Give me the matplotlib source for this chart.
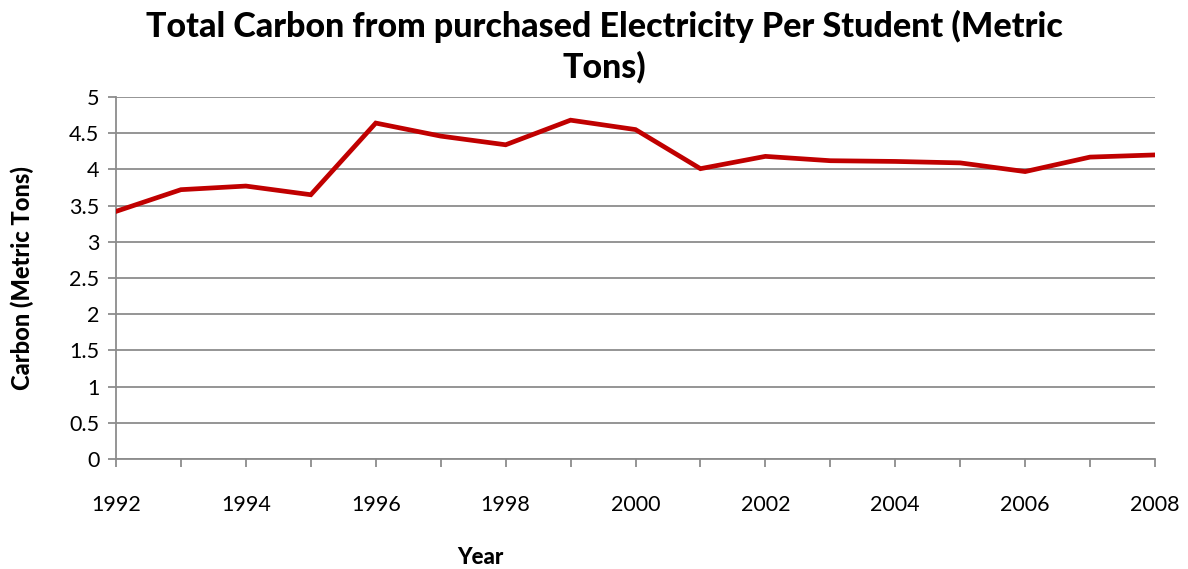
import matplotlib
matplotlib.use("Agg")
import matplotlib.pyplot as plt

plt.rcParams['font.family'] = ['Lato', 'DejaVu Sans']

years = list(range(1992, 2009))
carbon = [3.42, 3.72, 3.77, 3.65, 4.64, 4.46, 4.34, 4.68, 4.55,
          4.01, 4.18, 4.12, 4.11, 4.09, 3.97, 4.17, 4.20]
yticks = [0, 0.5, 1, 1.5, 2, 2.5, 3, 3.5, 4, 4.5, 5]
ytick_labels = ['0', '0.5', '1', '1.5', '2', '2.5', '3', '3.5', '4', '4.5', '5']

fig = plt.figure(figsize=(11.88, 5.69), dpi=100)
ax = fig.add_axes([116 / 1188, 1 - 459 / 569, (1155 - 116) / 1188, (459 - 97) / 569])

grid_color = '#8c8c8c'
ax.plot(years, carbon, color='#c00000', lw=3.4, solid_joinstyle='miter', zorder=3)

ax.set_xlim(1992, 2008)
ax.set_ylim(0, 5)
ax.set_yticks(yticks)
ax.set_yticklabels(ytick_labels)
ax.set_xticks(years)
ax.set_xticklabels([str(y) if y % 2 == 0 else '' for y in years])
ax.grid(axis='y', color=grid_color, lw=1.3)
ax.set_axisbelow(True)

for side in ['top', 'right']:
    ax.spines[side].set_visible(False)
for side in ['left', 'bottom']:
    ax.spines[side].set_color(grid_color)
    ax.spines[side].set_linewidth(1.3)

ax.tick_params(axis='x', direction='out', length=6, width=1.3, color=grid_color,
               labelsize=15.5, pad=20)
ax.tick_params(axis='y', direction='out', length=6, width=1.3, color=grid_color,
               labelsize=15.5, pad=6)

title = 'Total Carbon from purchased Electricity Per Student (Metric\nTons)'
fig.text(604 / 1188, 1 - 47 / 569, title, ha='center', va='center',
         fontsize=24.5, fontweight='black', linespacing=1.3)
fig.text(22 / 1188, 1 - 278 / 569, 'Carbon (Metric Tons)', rotation=90,
         ha='center', va='center', fontsize=17, fontweight='black')
fig.text(480 / 1188, 1 - 557 / 569, 'Year', ha='center', va='center',
         fontsize=16, fontweight='black')

fig.savefig('out.png', dpi=100)
